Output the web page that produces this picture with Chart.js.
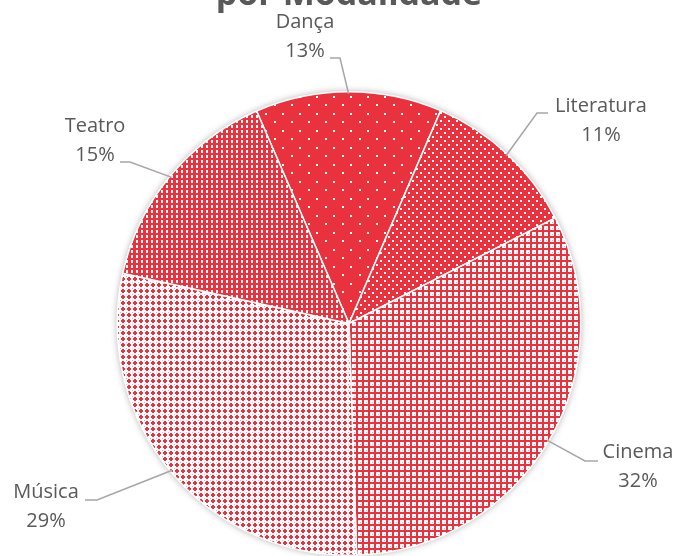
<!DOCTYPE html>
<html>
<head>
<meta charset="utf-8">
<script src="https://cdn.jsdelivr.net/npm/chart.js@4"></script>
<style>
  html, body { margin: 0; padding: 0; background: #fff; }
  #wrap { position: relative; width: 679px; height: 556px; overflow: hidden; }
</style>
</head>
<body>
<div id="wrap"><canvas id="modalidadePie" width="679" height="556"></canvas></div>
<script>
// dados (percentuais)
var modalidades = ['Dança', 'Literatura', 'Cinema', 'Música', 'Teatro'];
var percentuais = [13, 11, 32, 29, 15];
var titulo = 'por Modalidade';

var RED = 'rgb(233,50,61)';
var PINK = 'rgb(246,170,176)';

// pequenas texturas de pontos, uma por fatia
function makePattern(w, h, bg, draw) {
    var c = document.createElement('canvas');
    c.width = w; c.height = h;
    var g = c.getContext('2d');
    g.fillStyle = bg;
    g.fillRect(0, 0, w, h);
    draw(g);
    return document.getElementById('modalidadePie').getContext('2d').createPattern(c, 'repeat');
}

var patterns = [
    // Dança: pontos brancos esparsos
    makePattern(17, 17, RED, function (g) {
        g.fillStyle = '#fff';
        g.fillRect(2, 2, 2, 2);
        g.fillRect(10, 11, 2, 2);
    }),
    // Literatura: pontos mais densos
    makePattern(8, 8, RED, function (g) {
        g.fillStyle = '#fff';
        g.fillRect(0, 0, 2, 2);
        g.fillRect(4, 4, 2, 2);
    }),
    // Cinema: grade vermelha com quadrados claros
    makePattern(6, 6, '#fff', function (g) {
        g.fillStyle = PINK;
        g.fillRect(0, 0, 1, 1);
        g.fillStyle = RED;
        g.fillRect(0, 2, 6, 2);
        g.fillRect(2, 0, 2, 6);
    }),
    // Música: cruzes vermelhas sobre branco
    makePattern(6, 6, '#fff', function (g) {
        g.fillStyle = PINK;
        g.fillRect(0, 0, 1, 1);
        g.fillStyle = RED;
        g.fillRect(2, 1, 2, 4);
        g.fillRect(1, 2, 4, 2);
    }),
    // Teatro: tracinhos brancos verticais
    makePattern(5, 5, RED, function (g) {
        g.fillStyle = '#fff';
        g.fillRect(1, 0, 2, 3);
    })
];

// posição dos rótulos e cotovelo da linha guia (estilo, não dados)
var labelLayout = [
    { x: 305, y: 22, ex: 340, ey: 58, hx: 330 },
    { x: 601, y: 106, ex: 537, ey: 113, hx: 548 },
    { x: 638, y: 452, ex: 585, ey: 461, hx: 598 },
    { x: 46, y: 492, ex: 97, ey: 500, hx: 85 },
    { x: 95, y: 126, ex: 130, ey: 162, hx: 120 }
];

var pieExtras = {
    id: 'pieExtras',
    beforeDatasetsDraw: function (chart) {
        var arc = chart.getDatasetMeta(0).data[0];
        var ctx = chart.ctx;
        ctx.save();
        ctx.shadowColor = 'rgba(0,0,0,0.35)';
        ctx.shadowBlur = 7;
        ctx.fillStyle = '#fff';
        ctx.beginPath();
        ctx.arc(arc.x, arc.y, arc.outerRadius, 0, Math.PI * 2);
        ctx.fill();
        ctx.restore();
    },
    afterDatasetsDraw: function (chart) {
        var ctx = chart.ctx;
        var meta = chart.getDatasetMeta(0);
        ctx.save();
        // título (primeira linha fica fora da imagem)
        ctx.fillStyle = '#595959';
        ctx.font = 'bold 34px "Open Sans"';
        ctx.textAlign = 'center';
        ctx.textBaseline = 'alphabetic';
        ctx.fillText(titulo, 349, 5);

        meta.data.forEach(function (el, i) {
            var lay = labelLayout[i];
            var mid = (el.startAngle + el.endAngle) / 2;
            var r = el.outerRadius - 2;
            var px = el.x + Math.cos(mid) * r;
            var py = el.y + Math.sin(mid) * r;
            ctx.strokeStyle = '#a6a6a6';
            ctx.lineWidth = 1.5;
            ctx.beginPath();
            ctx.moveTo(px, py);
            ctx.lineTo(lay.ex, lay.ey);
            ctx.lineTo(lay.hx, lay.ey);
            ctx.stroke();

            ctx.fillStyle = '#595959';
            ctx.font = '20px "Open Sans"';
            ctx.textBaseline = 'middle';
            ctx.fillText(modalidades[i], lay.x, lay.y);
            ctx.fillText(percentuais[i] + '%', lay.x, lay.y + 29);
        });
        ctx.restore();
    }
};

var pie = document.getElementById('modalidadePie').getContext('2d');
var myPieChart = new Chart(pie, {
    type: 'pie',
    data: {
        labels: modalidades,
        datasets: [{
            data: percentuais,
            backgroundColor: patterns,
            borderColor: '#fff',
            borderWidth: 1.5
        }]
    },
    options: {
        responsive: false,
        animation: false,
        rotation: -23.5,
        layout: {
            padding: { top: 91, bottom: -5, left: 114, right: 95 }
        },
        plugins: {
            legend: { display: false },
            tooltip: { enabled: false },
            title: { display: false }
        }
    },
    plugins: [pieExtras]
});
</script>
</body>
</html>
